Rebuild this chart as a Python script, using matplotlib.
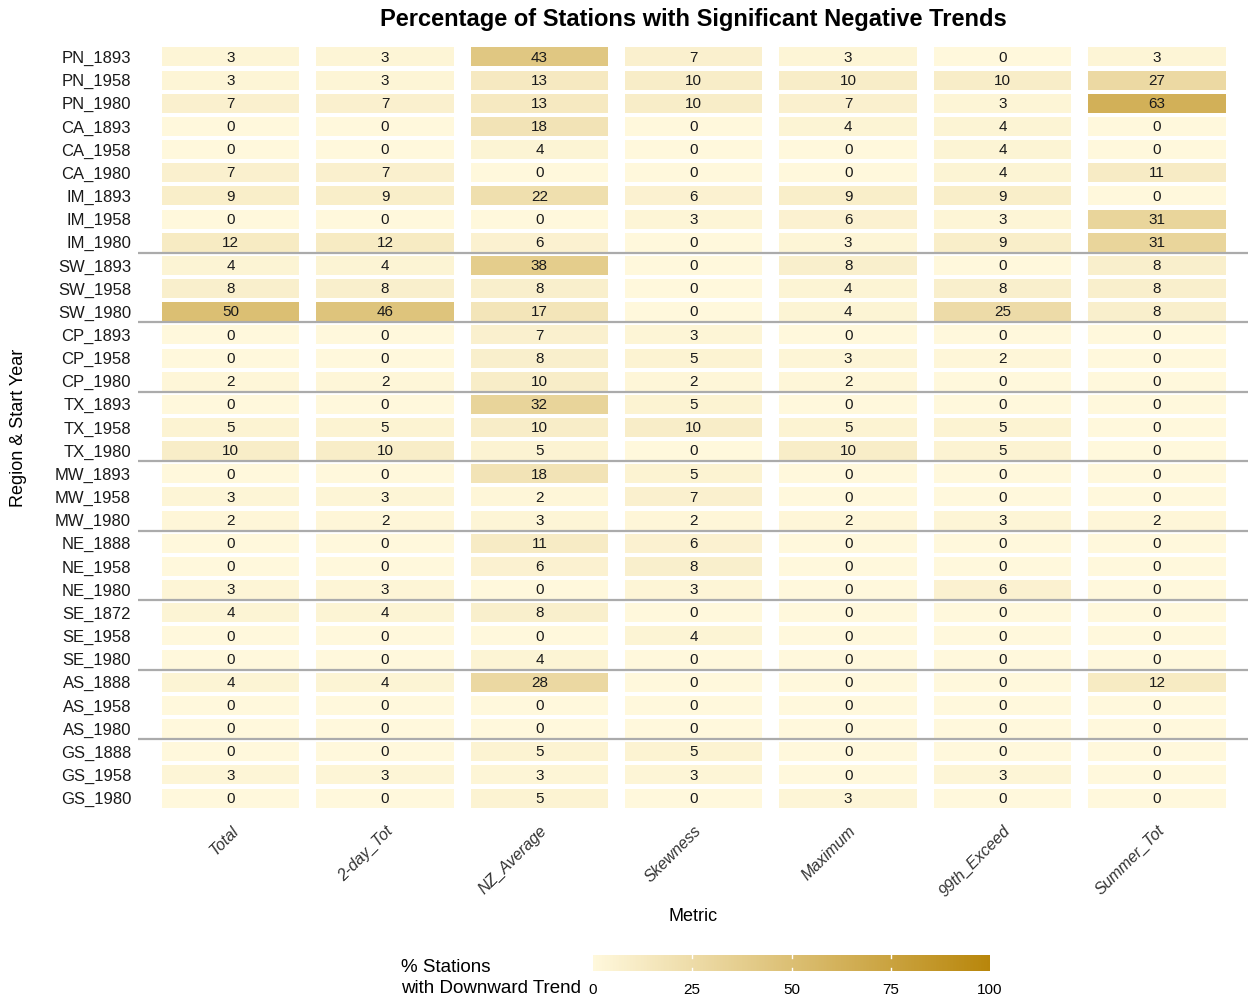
import numpy as np
import matplotlib
matplotlib.use("Agg")
import matplotlib.pyplot as plt
from matplotlib.colors import LinearSegmentedColormap, Normalize

plt.rcParams['font.family'] = ['Liberation Sans', 'DejaVu Sans']

metrics = ["Total", "2-day_Tot", "NZ_Average", "Skewness", "Maximum", "99th_Exceed", "Summer_Tot"]
regions = ["PN_1893", "PN_1958", "PN_1980", "CA_1893", "CA_1958", "CA_1980",
           "IM_1893", "IM_1958", "IM_1980", "SW_1893", "SW_1958", "SW_1980",
           "CP_1893", "CP_1958", "CP_1980", "TX_1893", "TX_1958", "TX_1980",
           "MW_1893", "MW_1958", "MW_1980", "NE_1888", "NE_1958", "NE_1980",
           "SE_1872", "SE_1958", "SE_1980", "AS_1888", "AS_1958", "AS_1980",
           "GS_1888", "GS_1958", "GS_1980"]

total =       [3, 3, 7, 0, 0, 7, 9, 0, 12, 4, 8, 50, 0, 0, 2, 0, 5, 10, 0, 3, 2, 0, 0, 3, 4, 0, 0, 4, 0, 0, 0, 3, 0]
two_day_tot = [3, 3, 7, 0, 0, 7, 9, 0, 12, 4, 8, 46, 0, 0, 2, 0, 5, 10, 0, 3, 2, 0, 0, 3, 4, 0, 0, 4, 0, 0, 0, 3, 0]
nz_average =  [43, 13, 13, 18, 4, 0, 22, 0, 6, 38, 8, 17, 7, 8, 10, 32, 10, 5, 18, 2, 3, 11, 6, 0, 8, 0, 4, 28, 0, 0, 5, 3, 5]
skewness =    [7, 10, 10, 0, 0, 0, 6, 3, 0, 0, 0, 0, 3, 5, 2, 5, 10, 0, 5, 7, 2, 6, 8, 3, 0, 4, 0, 0, 0, 0, 5, 3, 0]
maximum =     [3, 10, 7, 4, 0, 0, 9, 6, 3, 8, 4, 4, 0, 3, 2, 0, 5, 10, 0, 0, 2, 0, 0, 0, 0, 0, 0, 0, 0, 0, 0, 0, 3]
exceed_99 =   [0, 10, 3, 4, 4, 4, 9, 3, 9, 0, 8, 25, 0, 2, 0, 0, 5, 5, 0, 0, 3, 0, 0, 6, 0, 0, 0, 0, 0, 0, 0, 3, 0]
summer_tot =  [3, 27, 63, 0, 0, 11, 0, 31, 31, 8, 8, 8, 0, 0, 0, 0, 0, 0, 0, 0, 2, 0, 0, 0, 0, 0, 0, 12, 0, 0, 0, 0, 0]

# group separators sit after these rows
separators_after = ["IM_1980", "SW_1980", "CP_1980", "TX_1980", "MW_1980", "NE_1980", "SE_1980", "AS_1980"]

columns = [total, two_day_tot, nz_average, skewness, maximum, exceed_99, summer_tot]

cmap = LinearSegmentedColormap.from_list("gold", ["#FFF8DC", "#B8860B"])
norm = Normalize(0, 100)

fig = plt.figure(figsize=(12.48, 10), dpi=100)
ax = fig.add_axes([138 / 1248, 1 - 812 / 1000, (1248 - 138) / 1248, (812 - 43) / 1000])

rows = np.arange(len(regions))
for j, vals in enumerate(columns):
    vals = np.array(vals)
    ax.bar(np.full(len(rows), j), 0.82, bottom=rows - 0.41, width=0.89,
           color=cmap(norm(vals)), linewidth=0)
    for i, v in enumerate(vals):
        ax.text(j, i + 0.03, str(v), ha='center', va='center', fontsize=11, color='#1a1a1a')

for name in separators_after:
    ax.axhline(regions.index(name) + 0.45, color='#ababab', linewidth=1.6)

ax.set_xlim(-0.6, 6.59)
ax.set_ylim(len(regions) - 1 + 0.6, -0.6)
ax.set_yticks(rows)
ax.set_yticklabels(regions, fontsize=12, color='#1a1a1a')
ax.set_xticks(range(len(metrics)))
ax.set_xticklabels(metrics, rotation=45, ha='right', va='top', rotation_mode='anchor',
                   fontsize=11.5, style='italic', color='#333333')
ax.tick_params(length=0, pad=5)
ax.tick_params(axis='x', pad=8)
for s in ax.spines.values():
    s.set_visible(False)

ax.set_xlabel("Metric", fontsize=13, labelpad=6)
ax.set_ylabel("Region & Start Year", fontsize=13, labelpad=20)
ax.set_title("Percentage of Stations with Significant Negative Trends",
             fontsize=17, fontweight='bold', pad=12)

# colour bar legend
cax = fig.add_axes([593 / 1248, 1 - 971 / 1000, 397 / 1248, 16 / 1000])
cb = fig.colorbar(plt.cm.ScalarMappable(norm=norm, cmap=cmap), cax=cax, orientation='horizontal')
cb.outline.set_visible(False)
cb.set_ticks([0, 25, 50, 75, 100])
cax.tick_params(length=0, labelsize=11, pad=9)
for t in [25, 50, 75]:
    cax.axvline(t, ymin=0, ymax=0.2, color='white', linewidth=1)
    cax.axvline(t, ymin=0.8, ymax=1, color='white', linewidth=1)
fig.text(401 / 1248, 1 - 978 / 1000, "% Stations\nwith Downward Trend", ha='left', va='center',
         fontsize=13.5, linespacing=1.3)

fig.savefig("out.png", dpi=100)
